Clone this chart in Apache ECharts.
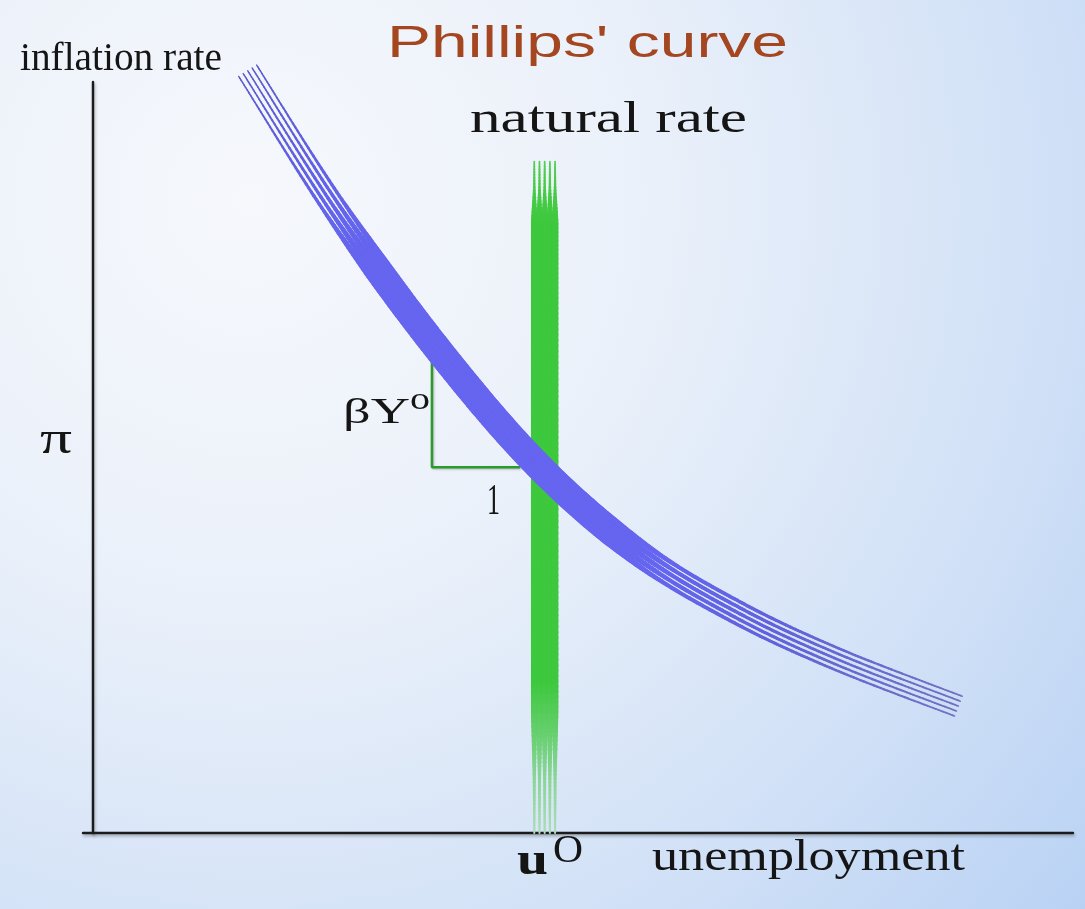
<!DOCTYPE html>
<html><head><meta charset="utf-8">
<script src="https://cdn.jsdelivr.net/npm/echarts@6/dist/echarts.min.js"></script>
<style>html,body{margin:0;padding:0;width:1085px;height:909px;overflow:hidden}#c{width:1085px;height:909px}</style>
</head><body><div id="c"></div>
<script>
// ---- data ----
const curveU = [15.8, 25.0, 35.4, 45.6, 55.8, 66.0, 76.2, 88.3];   // unemployment along Phillips curve
const curveP = [101.5, 82.6, 64.1, 48.7, 37.2, 29.2, 23.0, 16.9];  // inflation along Phillips curve
const naturalU = [46.1, 46.1];   // natural rate u0
const naturalP = [89.4, 0];
const triU = [34.6, 34.6, 43.6]; // slope triangle
const triP = [64.1, 48.7, 48.7];
const titleText = "Phillips' curve";
const yName = 'inflation rate';
const xName = 'unemployment';
const vName = 'natural rate';

// ---- helpers ----
function hex(c){c=c.replace('#','');return [parseInt(c.substr(0,2),16),parseInt(c.substr(2,2),16),parseInt(c.substr(4,2),16)];}
function profile(stops, s){
  if (s<=stops[0][0]) return stops[0][1];
  for (let i=0;i<stops.length-1;i++){
    const a=stops[i], b=stops[i+1];
    if (s<=b[0]){const t=(s-a[0])/(b[0]-a[0]||1);return a[1]+(b[1]-a[1])*t;}
  }
  return stops[stops.length-1][1];
}
function colorProfile(stops, s){
  const conv = stops.map(st=>[st[0],hex(st[1])]);
  const out=[0,1,2].map(ch=>profile(conv.map(st=>[st[0],st[1][ch]]), s));
  return 'rgb('+out.map(v=>Math.round(v)).join(',')+')';
}
function catmull(pts, per){
  const out=[]; const n=pts.length;
  for(let i=0;i<n-1;i++){
    const p0=pts[Math.max(i-1,0)],p1=pts[i],p2=pts[i+1],p3=pts[Math.min(i+2,n-1)];
    for(let j=0;j<per;j++){
      const t=j/per,t2=t*t,t3=t2*t;
      out.push([0,1].map(d=>0.5*(2*p1[d]+(-p0[d]+p2[d])*t+(2*p0[d]-5*p1[d]+4*p2[d]-p3[d])*t2+(-p0[d]+3*p1[d]-3*p2[d]+p3[d])*t3)));
    }
  }
  out.push(pts[n-1].slice());
  return out;
}
function bundleGroup(pts, opt){
  const dense=catmull(pts,opt.per);
  const L=[0];
  for(let i=1;i<dense.length;i++) L.push(L[i-1]+Math.hypot(dense[i][0]-dense[i-1][0],dense[i][1]-dense[i-1][1]));
  const total=L[L.length-1];
  const normals=dense.map((p,i)=>{
    const a=dense[Math.max(i-1,0)],b=dense[Math.min(i+1,dense.length-1)];
    let tx=b[0]-a[0],ty=b[1]-a[1];const l=Math.hypot(tx,ty)||1;tx/=l;ty/=l;return [ty,-tx];
  });
  const children=[];
  const half=(opt.n-1)/2;
  for(let k=-half;k<=half;k++){
    const off=k*opt.spacing;
    for(let i=0;i<dense.length-1;i++){
      const s=(L[i]+L[i+1])/2/total;
      children.push({type:'line',silent:true,
        shape:{x1:dense[i][0]+normals[i][0]*off,y1:dense[i][1]+normals[i][1]*off,
               x2:dense[i+1][0]+normals[i+1][0]*off,y2:dense[i+1][1]+normals[i+1][1]*off},
        style:{stroke:colorProfile(opt.color,s),lineWidth:profile(opt.width,s),lineCap:'round'}});
    }
  }
  return {type:'group',children};
}
const mctx=document.createElement('canvas').getContext('2d');
function textEl(str,x,baseline,size,family,weight,color,target){
  const font=(weight||'normal')+' '+size+'px '+family;
  const asc = family.indexOf('Sans')>=0 ? 0.3465 : 0.3375;
  const y=baseline-asc*size;
  let sx=1;
  if(target){mctx.font=font;sx=target/mctx.measureText(str).width;}
  return {type:'text',x:x,y:y,scaleX:sx,scaleY:1,originX:0,originY:0,z:100,silent:true,
    style:{text:str,font:font,fill:color,align:'left',verticalAlign:'middle'}};
}

const SERIF="'Liberation Serif', 'Times New Roman', serif";
const SANS="'Liberation Sans', Arial, sans-serif";
const INK='#151515';

const chart=echarts.init(document.getElementById('c'),null,{renderer:'canvas'});
const axisLine={show:true,onZero:true,lineStyle:{color:'#1b1b1b',width:2.4,shadowColor:'rgba(0,0,0,0.3)',shadowBlur:3,shadowOffsetX:1,shadowOffsetY:2}};

chart.setOption({
  animation:false,
  grid:{left:83,right:12,top:82,bottom:76},
  xAxis:{type:'value',min:-1,max:100,axisLine:axisLine,axisTick:{show:false},axisLabel:{show:false},splitLine:{show:false}},
  yAxis:{type:'value',min:0,max:100,axisLine:axisLine,axisTick:{show:false},axisLabel:{show:false},splitLine:{show:false}},
  graphic:[
    {type:'rect',z:-100,silent:true,shape:{x:0,y:0,width:1085,height:909},
      style:{fill:new echarts.graphic.RadialGradient(0.23,0.22,1.21,[
        {offset:0,color:'#f6f8fc'},{offset:0.35,color:'#ebf1fa'},{offset:0.7,color:'#d3e2f7'},{offset:1,color:'#b9d2f4'}])}},
    textEl(yName,20,73,39,SERIF,'normal',INK,202),
    textEl(titleText,387,60,44,SANS,'normal','#a4461f',401),
    textEl(vName,470,135,44,SERIF,'normal',INK,277),
    textEl(xName,652,873,45,SERIF,'normal',INK,313),
    textEl('u',517,878,46,SERIF,'bold',INK,31),
    textEl('O',553,865,41,SERIF,'normal',INK,30),
    textEl('\u03B2Y',343,426,36,SERIF,'normal',INK,67),
    textEl('o',410,411,32,SERIF,'normal',INK,20),
    textEl('1',487,517,44,SERIF,'normal',INK,13),
    textEl('\u03C0',40,456,46,SERIF,'normal',INK,32)
  ],
  series:[
    {type:'line',z:3,silent:true,symbol:'none',data:triU.map((u,i)=>[u,triP[i]]),
      lineStyle:{color:'#2b9b2b',width:2.5,shadowColor:'rgba(0,0,0,0.25)',shadowBlur:2,shadowOffsetX:1,shadowOffsetY:1}},
    {type:'custom',z:4,silent:true,data:naturalU.map((u,i)=>[u,naturalP[i]]),
      renderItem:function(params,api){
        if(params.dataIndex!==0) return null;
        const pts=naturalU.map((u,i)=>api.coord([u,naturalP[i]]));
        return bundleGroup(pts,{per:140,n:5,spacing:5.2,
          width:[[0,1.6],[0.04,2.5],[0.09,6.6],[0.82,6.6],[0.92,3],[1,2]],
          color:[[0,'#52cf52'],[0.1,'#3dc83d'],[0.78,'#3dc83d'],[0.9,'#80d48c'],[1,'#acdcb8']]});
      }},
    {type:'custom',z:5,silent:true,data:curveU.map((u,i)=>[u,curveP[i]]),
      renderItem:function(params,api){
        if(params.dataIndex!==0) return null;
        const pts=curveU.map((u,i)=>api.coord([u,curveP[i]]));
        return bundleGroup(pts,{per:40,n:5,spacing:5.3,
          width:[[0,1.4],[0.08,2.2],[0.16,3.5],[0.24,6.6],[0.6,6.6],[0.68,4],[0.8,3],[1,1.6]],
          color:[[0,'#5a5acf'],[0.15,'#6363ea'],[0.25,'#6565f0'],[0.65,'#6565f0'],[0.8,'#6262dc'],[1,'#7272c0']]});
      }}
  ]
});
</script></body></html>
